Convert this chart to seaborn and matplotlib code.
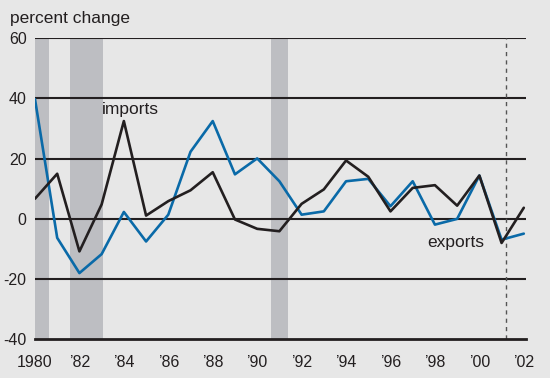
import matplotlib
matplotlib.use("Agg")
import matplotlib.pyplot as plt
import seaborn as sns
import pandas as pd

# ---------------------------------------------------------------------------
# Data
# ---------------------------------------------------------------------------
years = list(range(1980, 2003))
imports = [6.7, 15.0, -10.8, 4.8, 32.5, 1.1, 5.9, 9.5, 15.5, -0.2, -3.3, -4.1,
           5.0, 9.8, 19.4, 14.0, 2.5, 10.3, 11.2, 4.4, 14.4, -8.0, 3.7]
exports = [39.8, -6.3, -18.0, -11.7, 2.3, -7.5, 1.4, 22.3, 32.5, 14.8, 20.1, 12.5,
           1.4, 2.5, 12.5, 13.3, 4.2, 12.5, -1.9, 0.0, 14.4, -6.9, -4.9]
recessions = [(1980.0, 1980.64), (1981.57, 1983.04), (1990.62, 1991.37)]
dashed_year = 2001.18
yticks = [-40, -20, 0, 20, 40, 60]
xticks = list(range(1980, 2003, 2))
xlabels = ["1980"] + ["\u2019%02d" % (y % 100) for y in xticks[1:]]

BG = "#e7e7e7"
BAND = "#bdbec2"
BLUE = "#0a6aa8"
INK = "#231f20"

df = pd.DataFrame({"year": years, "imports": imports, "exports": exports})

sns.set_style("white", {"axes.facecolor": BG, "figure.facecolor": BG})
plt.rcParams["font.family"] = ["Liberation Sans", "DejaVu Sans"]
plt.rcParams["axes.unicode_minus"] = False

fig = plt.figure(figsize=(5.5, 3.78), dpi=100)
ax = fig.add_axes([0.0636, 0.1024, 0.8928, 0.7963])

for x0, x1 in recessions:
    ax.axvspan(x0, x1, color=BAND, lw=0, zorder=1)

for y in yticks[1:]:
    ax.axhline(y, color=INK, lw=1.5, zorder=2)

ax.axvline(dashed_year, color="#555555", lw=1.0, ls=(0, (3, 3)), zorder=2)

sns.lineplot(data=df, x="year", y="imports", ax=ax, color=INK, lw=1.9, zorder=4)
sns.lineplot(data=df, x="year", y="exports", ax=ax, color=BLUE, lw=1.9, zorder=3)

ax.set_xlim(1980, 2002.1)
ax.set_ylim(-40, 60)
ax.set_yticks(yticks)
ax.set_xticks(xticks)
ax.set_xticklabels(xlabels)
ax.set_xticks(years, minor=True)
ax.set_xlabel("")
ax.set_ylabel("")

for side in ["top", "right", "left"]:
    ax.spines[side].set_visible(False)
ax.spines["bottom"].set_color(INK)
ax.spines["bottom"].set_linewidth(2.0)
ax.spines["bottom"].set_zorder(5)

ax.tick_params(axis="x", which="both", direction="in", length=5, width=1.5,
               color=INK, labelsize=11.5, labelcolor=INK, pad=11)
ax.tick_params(axis="y", length=0, labelsize=11.5, labelcolor=INK, pad=6)

ax.text(1983.0, 36.4, "imports", fontsize=12.5, color=INK, va="center", ha="left")
ax.text(1997.65, -7.7, "exports", fontsize=12.5, color=INK, va="center", ha="left")
fig.text(10 / 550, 1 - 19 / 378, "percent change", fontsize=12.5, color=INK,
         va="center", ha="left")

fig.savefig("out.png", dpi=100, facecolor=BG)
